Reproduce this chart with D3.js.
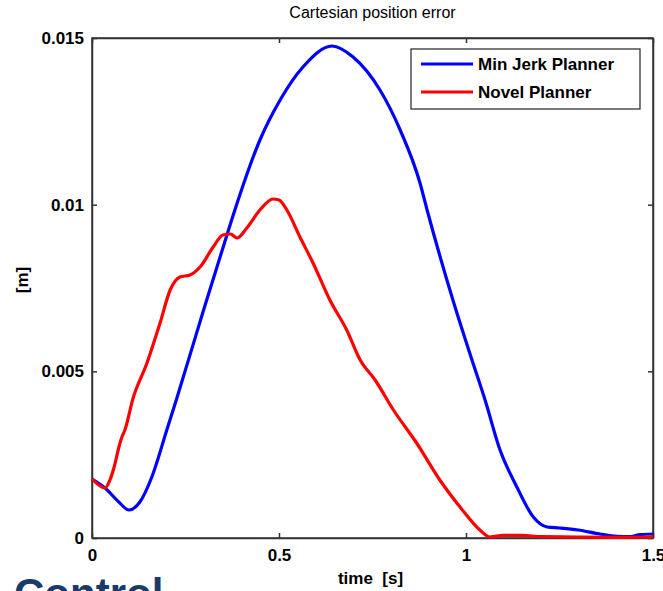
<!DOCTYPE html>
<html>
<head>
<meta charset="utf-8">
<script src="https://cdn.jsdelivr.net/npm/d3@7"></script>
<style>
  body { margin: 0; background: #fff; }
  text { font-family: "Liberation Sans", Arial, sans-serif; }
</style>
</head>
<body>
<div id="chart"></div>
<script>
// series
var minJerkTime = [0, 0.035, 0.07, 0.099, 0.128, 0.16, 0.2, 0.227, 0.3, 0.35, 0.382, 0.449, 0.503, 0.564, 0.642, 0.698, 0.77, 0.824, 0.877, 0.896, 0.965, 1.016, 1.051, 1.091, 1.136, 1.18, 1.217, 1.25, 1.3, 1.358, 1.404, 1.44, 1.465, 1.5]
var minJerkErr = [0.00177, 0.0015, 0.0011, 0.00084, 0.00108, 0.00183, 0.00324, 0.0042, 0.0069, 0.0087, 0.00984, 0.01194, 0.01314, 0.01413, 0.01476, 0.01443, 0.01344, 0.01224, 0.01065, 0.00984, 0.00714, 0.00534, 0.00414, 0.00264, 0.00153, 0.00063, 0.00033, 0.0003, 0.00024, 0.00012, 0.00005, 0.00004, 0.0001, 0.00012]

var novelTime = [0, 0.035, 0.048, 0.062, 0.07, 0.08, 0.088, 0.11, 0.147, 0.182, 0.209, 0.235, 0.262, 0.289, 0.324, 0.35, 0.37, 0.388, 0.414, 0.449, 0.484, 0.5, 0.521, 0.556, 0.591, 0.636, 0.681, 0.717, 0.757, 0.806, 0.868, 0.93, 0.984, 1.037, 1.064, 1.1, 1.15, 1.2, 1.3, 1.4, 1.5]
var novelErr = [0.00177, 0.0015, 0.00174, 0.00225, 0.00264, 0.00303, 0.00324, 0.0042, 0.00525, 0.00645, 0.00744, 0.00783, 0.00789, 0.00813, 0.00873, 0.00909, 0.00912, 0.009, 0.0093, 0.00984, 0.01017, 0.01014, 0.00984, 0.00903, 0.00825, 0.00714, 0.00624, 0.00534, 0.00474, 0.00384, 0.00285, 0.00174, 0.00093, 0.00024, 0.00003, 0.00008, 0.00008, 0.00004, 0.00003, 0.00002, 0.00003]

var xTicks = [0, 0.5, 1, 1.5]
var yTicks = [0, 0.005, 0.01, 0.015]
var seriesNames = ["Min Jerk Planner", "Novel Planner"]
var seriesColors = ["#0000ff", "#ff0000"]

var W = 663, H = 591
var margin = {top: 38, right: 10, bottom: 53, left: 92},
    width = W - margin.left - margin.right,
    height = H - margin.top - margin.bottom

var svg = d3.select("#chart").append("svg")
  .attr("width", W)
  .attr("height", H)

var g = svg.append("g")
  .attr("transform", "translate(" + margin.left + "," + margin.top + ")")

var x = d3.scaleLinear().domain([0, 1.5]).range([0, width])
var y = d3.scaleLinear().domain([0, 0.015]).range([height, 0])

var axisColor = "#333"

// frame
g.append("rect")
  .attr("width", width).attr("height", height)
  .attr("fill", "none").attr("stroke", axisColor).attr("stroke-width", 1.5)

// axes (ticks inside, labels bold)
var fmtY = function (d) { return d === 0 ? "0" : String(+d.toFixed(3)) }
g.append("g").attr("transform", "translate(0," + height + ")")
  .call(d3.axisBottom(x).tickValues(xTicks).tickSizeInner(-5).tickSizeOuter(0).tickPadding(11).tickFormat(function (d) { return String(d) }))
g.append("g")
  .call(d3.axisLeft(y).tickValues(yTicks).tickSizeInner(-5).tickSizeOuter(0).tickPadding(8).tickFormat(fmtY))
g.append("g").call(d3.axisTop(x).tickValues(xTicks).tickSizeInner(-5).tickSizeOuter(0).tickFormat(""))
g.append("g").attr("transform", "translate(" + width + ",0)")
  .call(d3.axisRight(y).tickValues(yTicks).tickSizeInner(-5).tickSizeOuter(0).tickFormat(""))

g.selectAll(".domain").attr("stroke", axisColor).attr("stroke-width", 1.5)
g.selectAll(".tick line").attr("stroke", axisColor).attr("stroke-width", 1.5)
g.selectAll(".tick text")
  .style("font-family", "Liberation Sans, Arial, sans-serif")
  .style("font-size", "17px")
  .style("font-weight", "bold")
  .attr("fill", "#000")

// lines
var line = d3.line()
  .x(function (d) { return x(d[0]) })
  .y(function (d) { return y(d[1]) })
  .curve(d3.curveMonotoneX)

var series = [
  d3.zip(minJerkTime, minJerkErr),
  d3.zip(novelTime, novelErr)
]

series.forEach(function (s, i) {
  g.append("path")
    .datum(s)
    .attr("fill", "none")
    .attr("stroke", seriesColors[i])
    .attr("stroke-width", 3.2)
    .attr("stroke-linejoin", "round")
    .attr("d", line)
})

// legend
var lg = svg.append("g").attr("transform", "translate(411,49)")
lg.append("rect")
  .attr("width", 229).attr("height", 60)
  .attr("fill", "#fff").attr("stroke", axisColor).attr("stroke-width", 1.3)
seriesNames.forEach(function (name, i) {
  var yy = 15 + i * 28
  lg.append("line")
    .attr("x1", 10).attr("x2", 62).attr("y1", yy).attr("y2", yy)
    .attr("stroke", seriesColors[i]).attr("stroke-width", 3.2)
  lg.append("text")
    .attr("x", 67).attr("y", yy + 6)
    .style("font-size", "17px").style("font-weight", "bold")
    .text(name)
})

// titles
svg.append("text")
  .attr("x", margin.left + width / 2).attr("y", 18)
  .attr("text-anchor", "middle")
  .style("font-size", "16px")
  .text("Cartesian position error")

svg.append("text")
  .attr("x", margin.left + width / 2 - 2).attr("y", 584)
  .attr("text-anchor", "middle")
  .style("font-size", "17px").style("font-weight", "bold")
  .style("white-space", "pre")
  .text("time  [s]")

svg.append("text")
  .attr("transform", "translate(28," + (margin.top + height / 2 - 8) + ")rotate(-90)")
  .attr("text-anchor", "middle")
  .style("font-size", "17px").style("font-weight", "bold")
  .text("[m]")

// slide heading peeking in at the bottom
svg.append("text")
  .attr("x", 14).attr("y", 608)
  .style("font-size", "42px").style("font-weight", "bold")
  .attr("fill", "#1b3a6b")
  .text("Control")
</script>
</body>
</html>
